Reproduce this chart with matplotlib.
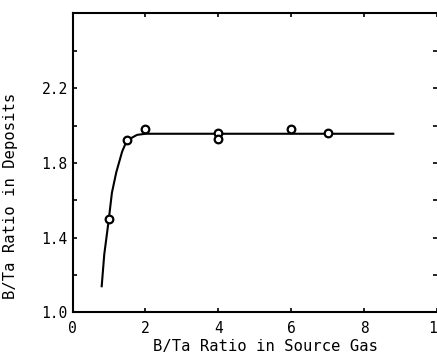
import matplotlib
matplotlib.use('Agg')
import matplotlib.pyplot as plt

# measured points
x_pts = [1.0, 1.5, 2.0, 4.0, 4.0, 6.0, 7.0]
y_pts = [1.50, 1.92, 1.98, 1.96, 1.93, 1.98, 1.96]

# hand-drawn trend curve
x_curve = [0.80, 0.87, 0.99, 1.08, 1.20, 1.36, 1.49, 1.77, 2.0, 2.2, 8.8]
y_curve = [1.14, 1.31, 1.49, 1.64, 1.75, 1.86, 1.92, 1.95, 1.956, 1.956, 1.956]

x_ticks = [0, 2, 4, 6, 8, 10]
y_ticks = [1.0, 1.4, 1.8, 2.2]
y_minor = [1.2, 1.6, 2.0, 2.4, 2.6]

plt.rcParams['font.family'] = ['DejaVu Sans Mono']

fig = plt.figure(figsize=(4.37, 3.53), dpi=100)
ax = fig.add_axes([0.166, 0.115, 0.834, 0.847])

ax.plot(x_curve, y_curve, color='black', lw=1.5, zorder=2)
ax.plot(x_pts, y_pts, 'o', ms=5.5, mfc='white', mec='black', mew=1.6, zorder=3)

ax.set_xlim(0, 10)
ax.set_ylim(1.0, 2.6)
ax.set_xticks(x_ticks)
ax.set_yticks(y_ticks)
ax.set_yticks(y_minor, minor=True)
ax.set_yticklabels(['1.0', '1.4', '1.8', '2.2'])

ax.tick_params(direction='in', length=3, width=1.2, labelsize=10.5,
               top=True, right=True, colors='black')
ax.tick_params(which='minor', direction='in', length=3, width=1.2, right=True)
ax.tick_params(axis='x', pad=6)

for s in ['left', 'bottom', 'top']:
    ax.spines[s].set_linewidth(1.5)
ax.spines['right'].set_visible(False)

ax.set_xlabel('B/Ta Ratio in Source Gas', fontsize=11.2)
ax.set_ylabel('B/Ta Ratio in Deposits', fontsize=11.2)
ax.xaxis.set_label_coords(0.53, -0.09)
ax.yaxis.set_label_coords(-0.15, 0.39)

fig.savefig('out.png', dpi=100)
